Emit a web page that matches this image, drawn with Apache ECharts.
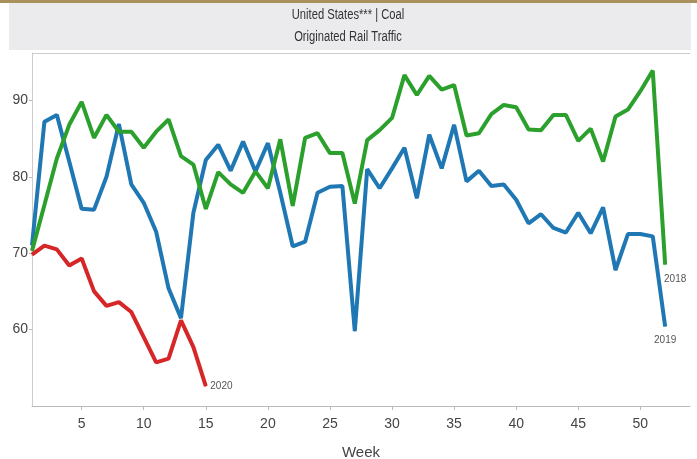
<!DOCTYPE html>
<html>
<head>
<meta charset="utf-8">
<script src="https://cdn.jsdelivr.net/npm/echarts@6/dist/echarts.min.js"></script>
<style>
html,body{margin:0;padding:0;background:#fff;}
#chart{width:697px;height:459px;}
</style>
</head>
<body>
<div id="chart"></div>
<script>
const weeks = Array.from({length: 52}, (_, i) => i + 1);
const xTicks = [5, 10, 15, 20, 25, 30, 35, 40, 45, 50];
const yTicks = [60, 70, 80, 90];
const titleLines = ['United States*** | Coal', 'Originated Rail Traffic'];

const s2018 = [70.3, 76.3, 82.4, 86.8, 89.8, 85.1, 88.1, 85.9, 85.9, 83.8,
  85.9, 87.5, 82.7, 81.6, 75.8, 80.6, 79.0, 77.9, 80.7, 78.5,
  84.9, 76.2, 85.1, 85.7, 83.1, 83.1, 76.5, 84.8, 86.1, 87.7,
  93.3, 90.7, 93.2, 91.4, 92.0, 85.4, 85.7, 88.2, 89.4, 89.1,
  86.2, 86.1, 88.1, 88.1, 84.7, 86.3, 82.0, 87.9, 88.8, 91.2,
  93.9, 68.5];
const s2019 = [71.0, 87.2, 88.1, 82.0, 75.8, 75.7, 80.0, 86.9, 79.0, 76.6,
  72.8, 65.4, 61.5, 75.3, 82.2, 84.2, 80.8, 84.6, 80.7, 84.4,
  77.9, 70.9, 71.5, 77.9, 78.7, 78.8, 59.8, 81.0, 78.5, 81.1,
  83.8, 77.2, 85.5, 81.1, 86.8, 79.4, 80.8, 78.8, 79.0, 77.0,
  73.9, 75.1, 73.3, 72.7, 75.3, 72.6, 76.0, 67.8, 72.5, 72.5,
  72.2, 60.4];
const s2020 = [69.8, 71.0, 70.5, 68.4, 69.3, 65.0, 63.1, 63.6, 62.3, 59.0,
  55.7, 56.2, 61.2, 57.7, 52.6];

const font = '"Liberation Sans Narrow", "Arial Narrow", "Liberation Sans", Arial, sans-serif';

function pairs(vals, labelOpt) {
  return vals.map((v, i) => {
    const item = { value: [weeks[i], v] };
    if (i === vals.length - 1 && labelOpt) item.label = labelOpt;
    return item;
  });
}

const baseLabel = { show: true, formatter: '{a}', fontSize: 10, color: '#555', fontFamily: font };

function lineSeries(name, color, vals, labelOpt, z) {
  return {
    name: name, type: 'line',
    symbol: 'circle', symbolSize: 1, showSymbol: true, showAllSymbol: true,
    lineStyle: { color: color, width: 4 }, itemStyle: { color: color },
    label: { show: false },
    emphasis: { disabled: true },
    data: pairs(vals, labelOpt),
    z: z
  };
}

const chart = echarts.init(document.getElementById('chart'), null, { renderer: 'canvas' });
chart.setOption({
  animation: false,
  backgroundColor: '#ffffff',
  graphic: [
    { type: 'rect', shape: { x: 9, y: 3, width: 682, height: 47 }, style: { fill: '#ebebee' }, z: -10 },
    { type: 'rect', shape: { x: 0, y: 0, width: 697, height: 3 }, style: { fill: '#a8915c' }, z: -9 },
    { type: 'line', shape: { x1: 32, y1: 53.5, x2: 690, y2: 53.5 }, style: { stroke: '#cccccc', lineWidth: 1 }, z: -5 },
    { type: 'text', x: 348, y: 15.5, scaleX: 0.8, style: { text: titleLines[0], x: 0, y: 0, align: 'center', verticalAlign: 'middle', fontSize: 14, fontFamily: font, fill: '#333' } },
    { type: 'text', x: 348, y: 37.5, scaleX: 0.8, style: { text: titleLines[1], x: 0, y: 0, align: 'center', verticalAlign: 'middle', fontSize: 14, fontFamily: font, fill: '#333' } }
  ],
  grid: { left: 32, right: 7, top: 53, bottom: 53, containLabel: false, outerBoundsMode: 'none' },
  xAxis: {
    type: 'value',
    min: 1,
    max: 54,
    name: 'Week',
    nameLocation: 'middle',
    nameGap: 39,
    nameTextStyle: { fontSize: 15, color: '#444', fontFamily: font },
    axisLine: { show: true, lineStyle: { color: '#bbbbbb', width: 1 } },
    axisTick: { show: true, customValues: xTicks, length: 4, lineStyle: { color: '#bbbbbb' } },
    axisLabel: { show: true, customValues: xTicks, fontSize: 14, color: '#444', fontFamily: font, margin: 11 },
    splitLine: { show: false }
  },
  yAxis: {
    type: 'value',
    min: 50,
    max: 96.2,
    axisLine: { show: true, lineStyle: { color: '#cccccc', width: 1 } },
    axisTick: { show: true, customValues: yTicks, length: 3, lineStyle: { color: '#bbbbbb' } },
    axisLabel: { show: true, customValues: yTicks, fontSize: 14, color: '#444', fontFamily: font, margin: 4 },
    splitLine: { show: false }
  },
  series: [
    lineSeries('2019', '#1f77b4', s2019, Object.assign({}, baseLabel, { position: 'bottom', distance: 8 }), 2),
    lineSeries('2018', '#2ca02c', s2018, Object.assign({}, baseLabel, { position: 'bottom', distance: 9, offset: [10, 0] }), 3),
    lineSeries('2020', '#d62728', s2020, Object.assign({}, baseLabel, { position: 'right', distance: 4 }), 4)
  ]
});
</script>
</body>
</html>
